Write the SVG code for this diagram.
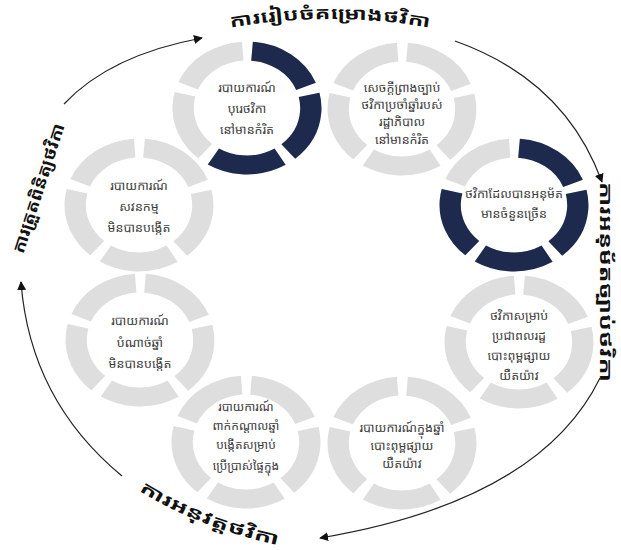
<svg xmlns="http://www.w3.org/2000/svg" xmlns:xlink="http://www.w3.org/1999/xlink" width="621" height="550" viewBox="0 0 621 550">
<style>
.bg{fill:#ffffff}
.ring{fill:none;stroke:#dedede;stroke-width:19;stroke-dasharray:62.63 9}
.dark3{fill:none;stroke:#1d2a4d;stroke-width:19;stroke-dasharray:62.63 9 62.63 9 62.63 152.25}
.dark4{fill:none;stroke:#1d2a4d;stroke-width:19;stroke-dasharray:62.63 9 62.63 9 62.63 9 62.63 80.62}
.nt{font-family:"Noto Sans Khmer","Khmer OS","Khmer OS System","DejaVu Sans",sans-serif;font-size:12.5px;fill:#3c3c3c;text-anchor:middle}
.lb{font-family:"Noto Sans Khmer","Khmer OS","Khmer OS System","DejaVu Sans",sans-serif;font-size:17px;font-weight:bold;fill:#111111;text-anchor:middle}
.cn{fill:none;stroke:#222222;stroke-width:1.2}
</style>
<defs>
<marker id="ah" viewBox="0 0 10 10" refX="9" refY="5" markerWidth="9" markerHeight="9" markerUnits="userSpaceOnUse" orient="auto">
<path d="M0,0 L10,5 L0,10 z" fill="#111111"/>
</marker>
<circle id="rg" r="57" class="ring" transform="rotate(-85.48)"/>
<path id="topArc" d="M130,54 A592,592 0 0 1 530,54"/>
<path id="botArc" d="M112,472 Q190,532 310,551"/>
</defs>
<rect class="bg" x="0" y="0" width="621" height="550"/>

<g id="connectors">
<path class="cn" d="M64,104 Q110,55 202,38" marker-end="url(#ah)"/>
<path class="cn" d="M455,41 Q565,80 602,182" marker-end="url(#ah)"/>
<path class="cn" d="M600,378 Q540,501 320,538" marker-end="url(#ah)"/>
<path class="cn" d="M122,476 Q30,400 21,282" marker-end="url(#ah)"/>
</g>

<g id="label-top"><text class="lb"><textPath xlink:href="#topArc" href="#topArc" startOffset="50%" textLength="200" lengthAdjust="spacingAndGlyphs">ការរៀបចំគម្រោងថវិកា</textPath></text></g>
<g id="label-right"><text class="lb" transform="translate(600,282) rotate(90)" textLength="200" lengthAdjust="spacingAndGlyphs">ការអនុម័តច្បាប់ថវិកា</text></g>
<g id="label-bottom"><text class="lb"><textPath xlink:href="#botArc" href="#botArc" startOffset="50%" textLength="150" lengthAdjust="spacingAndGlyphs">ការអនុវត្តថវិកា</textPath></text></g>
<g id="label-left"><text class="lb" transform="translate(44,190) rotate(-72)" textLength="135" lengthAdjust="spacingAndGlyphs">ការត្រួតពិនិត្យថវិកា</text></g>

<g id="n1">
<g transform="translate(247,108) scale(1.12,1)"><use href="#rg"/><circle r="57" class="dark3" transform="rotate(-85.48)"/></g>
<text class="nt" x="247" y="92">របាយការណ៍</text>
<text class="nt" x="247" y="113">បុរេថវិកា</text>
<text class="nt" x="247" y="134">នៅមានកំរិត</text>
</g>
<g id="n2">
<g transform="translate(402,109) scale(1.12,1)"><use href="#rg"/></g>
<text class="nt" x="402" y="92">សេចក្តីព្រាងច្បាប់</text>
<text class="nt" x="402" y="109">ថវិកាប្រចាំឆ្នាំរបស់</text>
<text class="nt" x="402" y="126">រដ្ឋាភិបាល</text>
<text class="nt" x="402" y="144">នៅមានកំរិត</text>
</g>
<g id="n3">
<g transform="translate(514,205) scale(1.12,1)"><use href="#rg"/><circle r="57" class="dark4" transform="rotate(-85.48)"/></g>
<text class="nt" x="514" y="198">ថវិកាដែលបានអនុម័ត</text>
<text class="nt" x="514" y="218">មានចំនួនច្រើន</text>
</g>
<g id="n4">
<g transform="translate(519,342) scale(1.12,1)"><use href="#rg"/></g>
<text class="nt" x="519" y="320">ថវិកាសម្រាប់</text>
<text class="nt" x="519" y="340">ប្រជាពលរដ្ឋ</text>
<text class="nt" x="519" y="360">បោះពុម្ពផ្សាយ</text>
<text class="nt" x="519" y="380">យឺតយ៉ាវ</text>
</g>
<g id="n5">
<g transform="translate(402,443) scale(1.12,1)"><use href="#rg"/></g>
<text class="nt" x="402" y="432">របាយការណ៍ក្នុងឆ្នាំ</text>
<text class="nt" x="402" y="450">បោះពុម្ពផ្សាយ</text>
<text class="nt" x="402" y="468">យឺតយ៉ាវ</text>
</g>
<g id="n6">
<g transform="translate(246,442) scale(1.12,1)"><use href="#rg"/></g>
<text class="nt" x="246" y="411" style="font-size:12px">របាយការណ៍</text>
<text class="nt" x="246" y="430" style="font-size:12px">ពាក់កណ្តាលឆ្នាំ</text>
<text class="nt" x="246" y="449" style="font-size:12px">បង្កើតសម្រាប់</text>
<text class="nt" x="246" y="470" style="font-size:12px">ប្រើប្រាស់ផ្ទៃក្នុង</text>
</g>
<g id="n7">
<g transform="translate(140,340) scale(1.12,1)"><use href="#rg"/></g>
<text class="nt" x="140" y="325">របាយការណ៍</text>
<text class="nt" x="140" y="347">បំណាច់ឆ្នាំ</text>
<text class="nt" x="140" y="368">មិនបានបង្កើត</text>
</g>
<g id="n8">
<g transform="translate(139,205) scale(1.12,1)"><use href="#rg"/></g>
<text class="nt" x="139" y="190">របាយការណ៍</text>
<text class="nt" x="139" y="211">សវនកម្ម</text>
<text class="nt" x="139" y="232">មិនបានបង្កើត</text>
</g>
</svg>
